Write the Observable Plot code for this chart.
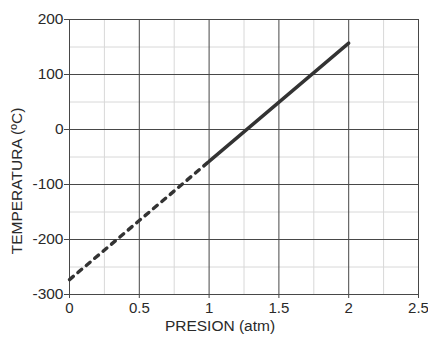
<!DOCTYPE html>
<html><head><meta charset="utf-8">
<script src="https://cdn.jsdelivr.net/npm/d3@7"></script>
<script src="https://cdn.jsdelivr.net/npm/@observablehq/plot@0.6"></script>
<style>body{margin:0;background:#fff}</style>
</head><body><div id="chart"></div>
<script>
const presion = [0, 1, 2];
const temperatura = [-273, -58, 157];
const xTicks = [0, 0.5, 1, 1.5, 2, 2.5];
const yTicks = [-300, -200, -100, 0, 100, 200];
const xMinor = [0.25, 0.75, 1.25, 1.75, 2.25];
const yMinor = [-250, -150, -50, 50, 150];

const pts = presion.map((p, i) => ({p, t: temperatura[i]}));
const dashed = pts.slice(0, 2);
const solid = pts.slice(1, 3);

const chart = Plot.plot({
  width: 428, height: 338,
  marginLeft: 69, marginRight: 10, marginTop: 19, marginBottom: 44,
  style: {fontFamily: "Liberation Sans, Arial, sans-serif", fontSize: "15px", color: "#2a2a2a", background: "#fff"},
  x: {domain: [0, 2.5], label: null},
  y: {domain: [-300, 200], label: null},
  marks: [
    Plot.ruleX(xMinor, {stroke: "#d8d8d8", strokeWidth: 1}),
    Plot.ruleY(yMinor, {stroke: "#d8d8d8", strokeWidth: 1}),
    Plot.ruleX(xTicks, {stroke: "#474747", strokeWidth: 1}),
    Plot.ruleY(yTicks, {stroke: "#474747", strokeWidth: 1}),
    Plot.axisX(xTicks, {tickSize: 4, tickPadding: 4, stroke: "#474747", fontSize: 15, tickFormat: d => String(d), label: null}),
    Plot.axisY(yTicks, {tickSize: 5, tickPadding: 1, stroke: "#474747", fontSize: 15.5, tickFormat: d => String(d), label: null}),
    Plot.line(dashed, {x: "p", y: "t", stroke: "#333", strokeWidth: 3.4, strokeDasharray: "5,6"}),
    Plot.line(solid, {x: "p", y: "t", stroke: "#333", strokeWidth: 3.4}),
    Plot.text(["TEMPERATURA (ºC)"], {frameAnchor: "left", textAnchor: "middle", dx: -52, dy: 24, rotate: -90, fontSize: 15.5, fill: "#2a2a2a"}),
    Plot.text(["PRESION (atm)"], {frameAnchor: "bottom", dx: -24, dy: 36, fontSize: 15.5, fill: "#2a2a2a"})
  ]
});
document.getElementById("chart").append(chart);
</script>
</body></html>
